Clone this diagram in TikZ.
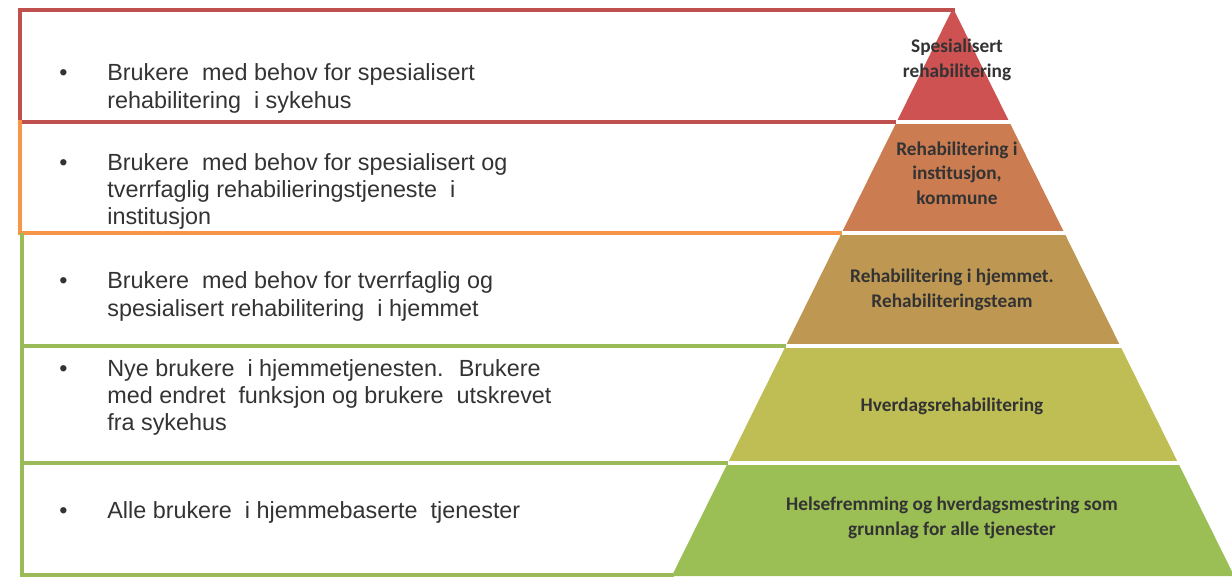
\documentclass[tikz,border=0pt]{standalone}
\usepackage{fontspec}
\setmainfont{Liberation Sans}
\newfontfamily\pyrfont{Carlito}
\usepackage{xcolor}
\definecolor{frameRed}{HTML}{C0504D}
\definecolor{frameOrange}{HTML}{F79646}
\definecolor{frameGreen}{HTML}{9BBB59}
\definecolor{tierRed}{HTML}{CF5252}
\definecolor{tierOrange}{HTML}{CB7C50}
\definecolor{tierTan}{HTML}{BE9852}
\definecolor{tierOlive}{HTML}{BEBE55}
\definecolor{tierGreen}{HTML}{9BBE55}

\begin{document}
\begin{tikzpicture}[x=0.02cm, y=-0.02cm,
  frame/.style={line width=2.2pt, line cap=rect},
  item/.style={anchor=west, inner sep=0pt, font=\fontsize{13.3}{15.5}\selectfont, text=black!80},
  tier/.style={font=\pyrfont\bfseries\fontsize{11}{14}\selectfont, align=center, text=black!80, inner sep=0pt}]
\useasboundingbox (0,0) rectangle (1232,576);

\fill[tierRed] (953,8) -- (896.6,122) -- (1009.4,122) -- cycle;
\fill[tierOrange] (896.6,122) -- (841.6,233) -- (1064.4,233) -- (1009.4,122) -- cycle;
\fill[tierTan] (841.6,233) -- (785.7,346) -- (1120.3,346) -- (1064.4,233) -- cycle;
\fill[tierOlive] (785.7,346) -- (727.8,463) -- (1178.2,463) -- (1120.3,346) -- cycle;
\fill[tierGreen] (727.8,463) -- (671.8,576) -- (1234.2,576) -- (1178.2,463) -- cycle;
\foreach \y in {122,233,346,463}
  \draw[white, line width=2.2pt] (660,\y) -- (1232,\y);

\draw[frame, frameRed] (20,122) -- (20,10) -- (953,10);
\draw[frame, frameRed] (20,122) -- (894,122);
\draw[frame, frameOrange] (20,122) -- (20,233) -- (840,233);
\draw[frame, frameGreen] (22,235) -- (22,576);
\draw[frame, frameGreen] (22,346) -- (784,346);
\draw[frame, frameGreen] (22,463) -- (726,463);
\draw[frame, frameGreen] (22,575) -- (672,575);

\node[item] (spesBruk) at (59,89) {\begin{tabular}{@{}p{0.96cm}@{}l@{}}
  \textbullet & Brukere~ med behov for spesialisert\\
  & rehabilitering~ i sykehus\end{tabular}};
\node[item] (instBruk) at (59,192) {\begin{tabular}{@{}p{0.96cm}@{}l@{}}
  \textbullet & Brukere~ med behov for spesialisert og\\
  & tverrfaglig rehabilieringstjeneste~ i\\
  & institusjon\end{tabular}};
\node[item] (hjemBruk) at (59,297) {\begin{tabular}{@{}p{0.96cm}@{}l@{}}
  \textbullet & Brukere~ med behov for tverrfaglig og\\
  & spesialisert rehabilitering~ i hjemmet\end{tabular}};
\node[item] (nyeBruk) at (59,398) {\begin{tabular}{@{}p{0.96cm}@{}l@{}}
  \textbullet & Nye brukere~ i hjemmetjenesten.~ Brukere\\
  & med endret~ funksjon og brukere~ utskrevet\\
  & fra sykehus\end{tabular}};
\node[item] (alleBruk) at (59,513) {\begin{tabular}{@{}p{0.96cm}@{}l@{}}
  \textbullet & Alle brukere~ i hjemmebaserte~ tjenester\end{tabular}};

\node[tier] (spes) at (957,60) {Spesialisert\\rehabilitering};
\node[tier] (inst) at (957,173) {Rehabilitering i\\institusjon,\\kommune};
\node[tier] (hjem) at (952,290) {Rehabilitering i hjemmet.\\Rehabiliteringsteam};
\node[tier] (hverd) at (952,406) {Hverdagsrehabilitering};
\node[tier] (helse) at (952,518) {Helsefremming og hverdagsmestring som\\grunnlag for alle tjenester};
\end{tikzpicture}
\end{document}
